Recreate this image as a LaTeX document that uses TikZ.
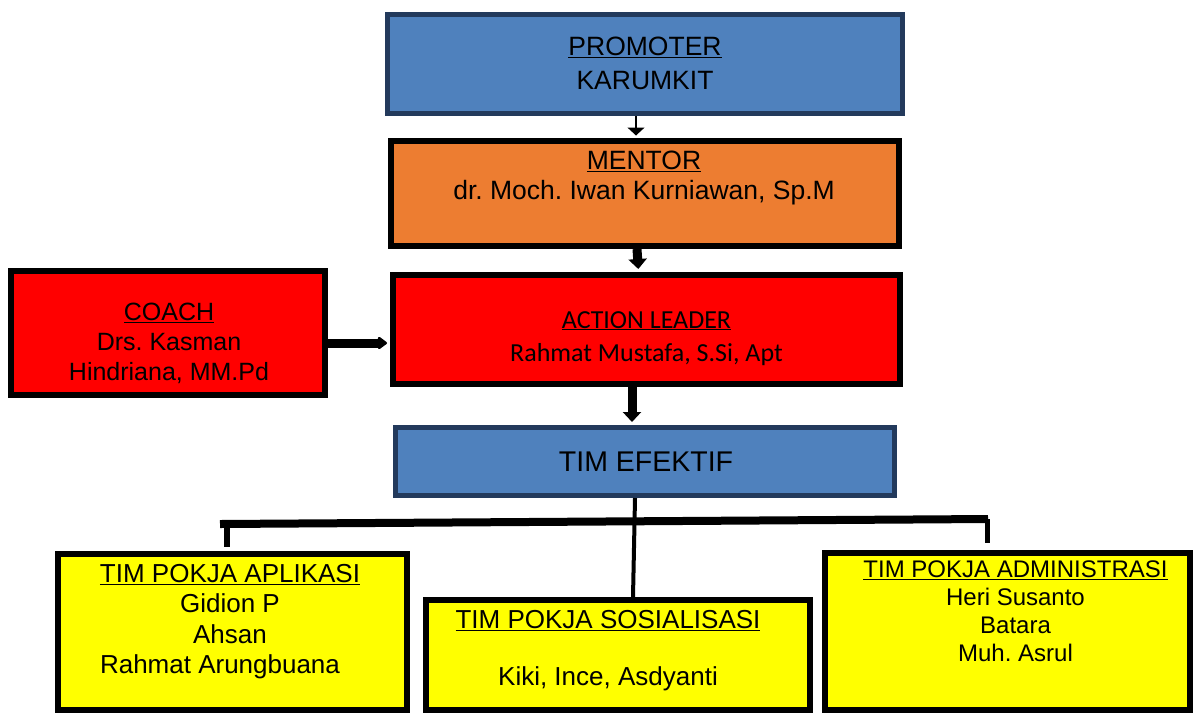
\documentclass[tikz,border=0pt]{standalone}
\usepackage{fontspec}
\setmainfont{Liberation Sans}
\newfontfamily\calibrifont{Carlito}
\usetikzlibrary{arrows.meta}
\definecolor{boxblue}{HTML}{4F81BD}
\definecolor{boxnavy}{HTML}{233A5C}
\definecolor{boxorange}{HTML}{ED7D31}
\definecolor{boxred}{HTML}{FF0000}
\definecolor{boxyellow}{HTML}{FFFF00}
\frenchspacing

\begin{document}
\begin{tikzpicture}
  [x=1pt,y=-1pt,
   box/.style={rectangle,draw=black,line width=6pt,inner sep=0pt},
   bluebox/.style={box,fill=boxblue,draw=boxnavy,line width=5pt},
   txt/.style={inner sep=0pt,anchor=north,align=center},
   thinarrow/.style={-{Triangle[width=17pt,length=8pt]},line width=1.2pt,shorten >=2.5pt},
   fatarrow/.style={-{Triangle[width=18pt,length=10pt]},line width=9pt,shorten >=3pt}]
  \useasboundingbox (0,0) rectangle (1193,713);

  % kotak
  \node[bluebox,minimum width=515pt,minimum height=99pt] (promoter) at (645,64) {};
  \node[box,fill=boxorange,minimum width=508pt,minimum height=105pt] (mentor) at (645,193.5) {};
  \node[box,fill=boxred,minimum width=507pt,minimum height=109pt] (leader) at (646.5,329.5) {};
  \node[box,fill=boxred,minimum width=314pt,minimum height=124pt] (coach) at (168,333) {};
  \node[bluebox,minimum width=499pt,minimum height=68pt] (efektif) at (645,461.5) {};
  \node[box,fill=boxyellow,minimum width=349pt,minimum height=156pt] (aplikasi) at (232.5,632) {};
  \node[box,fill=boxyellow,minimum width=384pt,minimum height=110pt] (sosial) at (618,655) {};
  \node[box,fill=boxyellow,minimum width=365pt,minimum height=157pt] (admin) at (1007.5,631.5) {};

  % teks
  \node[txt,font=\fontsize{26.5}{34}\selectfont] (promotertxt) at (645,37) {\underline{PROMOTER}\\KARUMKIT};
  \node[txt,font=\fontsize{26.5}{30}\selectfont] (mentortxt) at (644,151) {\underline{MENTOR}\\dr. Moch. Iwan Kurniawan, Sp.M};
  \node[txt,font=\calibrifont\fontsize{26}{33}\selectfont] (leadertxt) at (646.5,311) {\underline{ACTION LEADER}\\Rahmat Mustafa, S.Si, Apt};
  \node[txt,font=\fontsize{25}{30}\selectfont] (coachtxt) at (169,303) {\underline{COACH}\\Drs. Kasman\\Hindriana, MM.Pd};
  \node[txt,font=\fontsize{28.5}{34}\selectfont] (efektiftxt) at (646,452) {TIM EFEKTIF};
  \node[txt,font=\fontsize{26}{30.5}\selectfont] (aplikasitxt) at (230,564) {\underline{TIM POKJA APLIKASI}\\Gidion P\\Ahsan\\Rahmat Arungbuana\hspace*{20pt}};
  \node[txt,font=\fontsize{26}{28.5}\selectfont] (sosialtxt) at (608,610) {\underline{TIM POKJA SOSIALISASI}\\[28.5pt]Kiki, Ince, Asdyanti};
  \node[txt,font=\fontsize{24}{28}\selectfont] (admintxt) at (1015.5,561) {\underline{TIM POKJA ADMINISTRASI}\\Heri Susanto\\Batara\\Muh. Asrul};

  % panah
  \draw[thinarrow] ([xshift=-9pt]promoter.south) -- ([xshift=-9pt]mentor.north);
  \draw[fatarrow] ([xshift=-8pt]mentor.south) -- ([xshift=-8pt]leader.north);
  \draw[fatarrow] ([xshift=-14.5pt]leader.south) -- ([xshift=-14.5pt]leader.south |- efektif.north);
  \draw[-{Triangle[width=14pt,length=10pt,round]},line width=9pt,shorten >=3pt]
    ([yshift=-10pt]coach.east) -- ([yshift=-10pt]coach.east -| leader.west);

  % garis struktur
  \coordinate (barL) at (220,524);
  \coordinate (barR) at (988,519);
  \coordinate (dropL) at (227,547);
  \coordinate (dropR) at (987,543);
  \draw[line width=4pt] ([xshift=-10pt]efektif.south) -- ([xshift=15pt]sosial.north);
  \draw[line width=8pt] (barL) -- (barR);
  \draw[line width=6pt] (barL -| dropL) -- (dropL);
  \draw[line width=5pt] (barR -| dropR) -- (dropR);
\end{tikzpicture}
\end{document}
